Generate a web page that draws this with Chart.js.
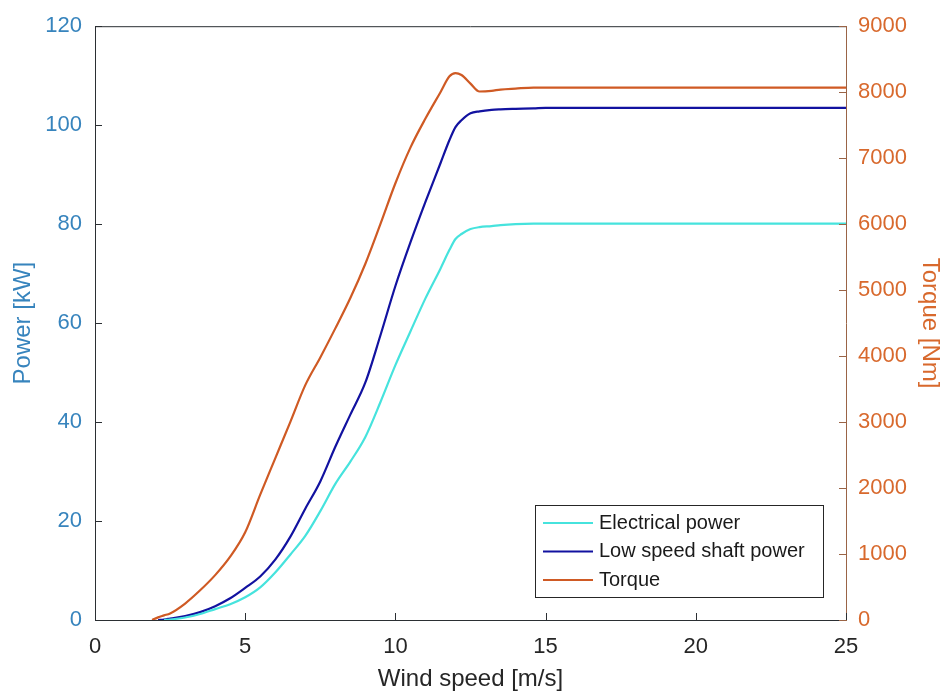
<!DOCTYPE html>
<html>
<head>
<meta charset="utf-8">
<script src="https://cdn.jsdelivr.net/npm/chart.js@4.4.1/dist/chart.umd.min.js"></script>
<style>
html,body{margin:0;padding:0;background:#fff;}
#wrap{width:949px;height:696px;}
</style>
</head>
<body>
<div id="wrap"><canvas id="c" width="949" height="696"></canvas></div>
<script>
// ---- data ----
const windSpeed = [1.9, 2.1, 2.3, 2.5, 3, 3.5, 4, 4.5, 5, 5.5, 6, 6.5, 7, 7.5, 8, 8.5, 9, 9.5, 10, 10.5, 11, 11.5, 11.8, 12, 12.2, 12.5, 12.8, 13.2, 13.5, 14, 14.6, 15, 16, 18, 20, 22, 25];
const electricalPower = [null, null, 0, 0.1, 0.5, 1.2, 2.2, 3.2, 4.6, 6.6, 9.6, 13.2, 17, 22, 27.5, 32, 37, 44, 51.5, 58.3, 65, 71, 74.8, 77, 78, 79, 79.4, 79.6, 79.8, 80, 80.1, 80.1, 80.1, 80.1, 80.1, 80.1, 80.1];
const shaftPower = [null, 0, 0.1, 0.3, 0.8, 1.6, 2.8, 4.4, 6.5, 8.8, 12.2, 16.8, 22.5, 28, 35, 41.5, 48, 57.5, 67.5, 76.3, 84.5, 92.3, 97, 99.6, 101, 102.4, 102.8, 103.1, 103.2, 103.3, 103.4, 103.5, 103.5, 103.5, 103.5, 103.5, 103.5];
const torque = [0, 40, 70, 100, 250, 450, 680, 960, 1330, 1900, 2450, 3000, 3560, 3980, 4420, 4880, 5400, 6000, 6620, 7160, 7600, 8000, 8240, 8290, 8260, 8130, 8010, 8020, 8040, 8055, 8070, 8070, 8070, 8070, 8070, 8070, 8070];
const xTicks = [0, 5, 10, 15, 20, 25];
const powerTicks = [0, 20, 40, 60, 80, 100, 120];
const torqueTicks = [0, 1000, 2000, 3000, 4000, 5000, 6000, 7000, 8000, 9000];
const seriesLabels = ['Electrical power', 'Low speed shaft power', 'Torque'];

const toPoints = (vals) => windSpeed.map((x, i) => ({x: x, y: vals[i]})).filter(p => p.y !== null);

const FONT = 'Arial, "Liberation Sans", Helvetica, sans-serif';
const LEFT_COLOR = '#3784bd';
const RIGHT_COLOR = '#d8692d';
const AXIS_DARK = '#2b2f33';
const plain = (v) => String(v);

const innerTicks = {
  id: 'innerTicks',
  afterDatasetsDraw(chart) {
    const {ctx, chartArea: a, scales} = chart;
    ctx.save();
    ctx.lineWidth = 1;
    ctx.strokeStyle = AXIS_DARK;
    ctx.beginPath();
    ctx.moveTo(a.left, a.top + 0.5);
    ctx.lineTo(a.right, a.top + 0.5);
    ctx.stroke();
    xTicks.forEach(v => {
      const px = Math.round(scales.x.getPixelForValue(v)) + 0.5;
      ctx.beginPath();
      ctx.moveTo(px, a.bottom);
      ctx.lineTo(px, a.bottom - 7);
      ctx.stroke();
    });
    powerTicks.forEach(v => {
      const py = Math.round(scales.y.getPixelForValue(v)) + 0.5;
      ctx.beginPath();
      ctx.moveTo(a.left, py);
      ctx.lineTo(a.left + 7, py);
      ctx.stroke();
    });
    ctx.strokeStyle = '#9a6446';
    torqueTicks.forEach(v => {
      const py = Math.round(scales.y1.getPixelForValue(v)) + 0.5;
      ctx.beginPath();
      ctx.moveTo(a.right, py);
      ctx.lineTo(a.right - 7, py);
      ctx.stroke();
    });
    ctx.restore();
  }
};

const boxLegend = {
  id: 'boxLegend',
  afterDraw(chart) {
    const {ctx} = chart;
    const x0 = 535, y0 = 505, w = 288, h = 92;
    ctx.save();
    ctx.fillStyle = '#ffffff';
    ctx.fillRect(x0, y0, w, h);
    ctx.strokeStyle = '#262626';
    ctx.lineWidth = 1;
    ctx.strokeRect(x0 + 0.5, y0 + 0.5, w, h);
    ctx.font = '20px ' + FONT;
    ctx.textBaseline = 'middle';
    ctx.textAlign = 'left';
    chart.data.datasets.forEach((ds, i) => {
      const cy = y0 + 18 + i * 28.5;
      ctx.strokeStyle = ds.borderColor;
      ctx.lineWidth = ds.borderWidth;
      ctx.beginPath();
      ctx.moveTo(x0 + 8, cy);
      ctx.lineTo(x0 + 58, cy);
      ctx.stroke();
      ctx.fillStyle = '#1a1a1a';
      ctx.fillText(ds.label, x0 + 64, cy);
    });
    ctx.restore();
  }
};

new Chart(document.getElementById('c'), {
  type: 'line',
  data: {
    datasets: [
      {label: seriesLabels[0], data: toPoints(electricalPower), borderColor: '#46e3dd', borderWidth: 2.2, yAxisID: 'y', pointRadius: 0, cubicInterpolationMode: 'monotone'},
      {label: seriesLabels[1], data: toPoints(shaftPower), borderColor: '#1212a0', borderWidth: 2.2, yAxisID: 'y', pointRadius: 0, cubicInterpolationMode: 'monotone'},
      {label: seriesLabels[2], data: toPoints(torque), borderColor: '#cf5a24', borderWidth: 2.2, yAxisID: 'y1', pointRadius: 0, cubicInterpolationMode: 'monotone'}
    ]
  },
  options: {
    responsive: false,
    animation: false,
    layout: {padding: {top: 20, left: 0, right: 0, bottom: 0}},
    plugins: {legend: {display: false}, tooltip: {enabled: false}},
    scales: {
      x: {
        type: 'linear', min: 0, max: 25,
        afterBuildTicks: (s) => { s.ticks = xTicks.map(v => ({value: v})); },
        afterFit: (s) => { s.height = 76; },
        grid: {display: false, drawTicks: false},
        border: {display: true, color: AXIS_DARK, width: 1},
        ticks: {padding: 14, color: '#262626', font: {family: FONT, size: 22}, maxRotation: 0, callback: plain},
        title: {display: true, text: 'Wind speed [m/s]', color: '#262626', font: {family: FONT, size: 24}, padding: {top: 0, bottom: 2}}
      },
      y: {
        type: 'linear', position: 'left', min: 0, max: 120,
        afterBuildTicks: (s) => { s.ticks = powerTicks.map(v => ({value: v})); },
        afterFit: (s) => { s.width = 95; },
        grid: {display: false, drawTicks: false},
        border: {display: true, color: AXIS_DARK, width: 1},
        ticks: {padding: 13, color: LEFT_COLOR, font: {family: FONT, size: 22}, callback: plain},
        title: {display: true, text: 'Power [kW]', color: LEFT_COLOR, font: {family: FONT, size: 24}, padding: {top: 9, bottom: 0}}
      },
      y1: {
        type: 'linear', position: 'right', min: 0, max: 9000,
        afterBuildTicks: (s) => { s.ticks = torqueTicks.map(v => ({value: v})); },
        afterFit: (s) => { s.width = 103; },
        grid: {display: false, drawTicks: false},
        border: {display: true, color: '#9a6446', width: 1},
        ticks: {padding: 12, color: RIGHT_COLOR, font: {family: FONT, size: 22}, callback: plain},
        title: {display: true, text: 'Torque [Nm]', color: RIGHT_COLOR, font: {family: FONT, size: 24}, padding: {top: 5, bottom: 0}}
      }
    }
  },
  plugins: [innerTicks, boxLegend]
});
</script>
</body>
</html>
